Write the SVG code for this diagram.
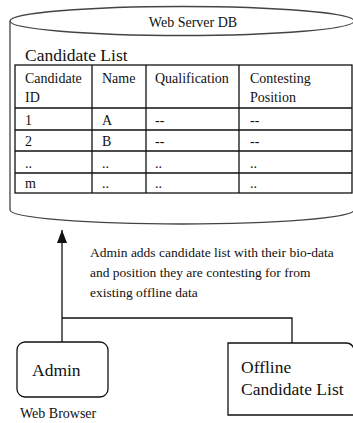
<svg xmlns="http://www.w3.org/2000/svg" width="353" height="423" viewBox="0 0 353 423">
<style>
.t{font-family:"Liberation Serif","Times New Roman",serif;fill:#111}
.s14{font-size:14px}
.s13{font-size:13.5px}
.s17{font-size:17.5px}
.ln{fill:none;stroke:#111;stroke-width:1.3}
.cyl{fill:none;stroke:#444;stroke-width:1.3}
</style>
<defs>
<marker id="ah" markerWidth="14" markerHeight="10" refX="13" refY="5" orient="auto" markerUnits="userSpaceOnUse" viewBox="0 0 14 10">
<path d="M0,0 L13,5 L0,10 Z" fill="#111"/>
</marker>
</defs>
<rect width="353" height="423" fill="#fff"/>
<g id="db">
<path class="cyl" d="M10,21 V210 A172,14 0 0 0 354,210"/>
<ellipse class="cyl" cx="182" cy="21" rx="172" ry="14.5"/>
<text class="t s14" x="193" y="27" text-anchor="middle">Web Server DB</text>
<text class="t s17" x="25" y="61">Candidate List</text>
<g id="table">
<rect class="ln" x="15" y="65" width="337" height="128"/>
<path class="ln" d="M15,108 H352 M15,130 H352 M15,151 H352 M15,173 H352 M92,65 V193 M146,65 V193 M239,65 V193"/>
<g class="t s14">
<text x="25" y="83">Candidate</text><text x="25" y="102">ID</text>
<text x="102" y="83">Name</text>
<text x="155" y="83">Qualification</text>
<text x="250" y="83">Contesting</text><text x="250" y="102">Position</text>
<text x="25" y="125">1</text><text x="102" y="125">A</text><text x="155" y="125">--</text><text x="250" y="125">--</text>
<text x="25" y="146">2</text><text x="102" y="146">B</text><text x="155" y="146">--</text><text x="250" y="146">--</text>
<text x="25" y="168">..</text><text x="102" y="168">..</text><text x="155" y="168">..</text><text x="250" y="168">..</text>
<text x="25" y="188">m</text><text x="102" y="188">..</text><text x="155" y="188">..</text><text x="250" y="188">..</text>
</g>
</g>
</g>
<g id="connectors">
<path class="ln" d="M62,342 V230" marker-end="url(#ah)"/>
<path class="ln" d="M62,318 H292 V343"/>
<g class="t s13">
<text x="90" y="257">Admin adds candidate list with their bio-data</text>
<text x="90" y="277">and position they are contesting for from</text>
<text x="90" y="297">existing offline data</text>
</g>
</g>
<g id="admin">
<rect class="ln" x="17" y="342" width="91" height="55" rx="8"/>
<text class="t s17" x="32" y="376">Admin</text>
<text class="t s14" x="20" y="418">Web Browser</text>
</g>
<g id="offline">
<path class="ln" d="M353,415 H228 V343 H346 Q352,343 354,349"/>
<text class="t s17" x="241" y="373">Offline</text>
<text class="t s17" x="241" y="395">Candidate List</text>
</g>
</svg>
